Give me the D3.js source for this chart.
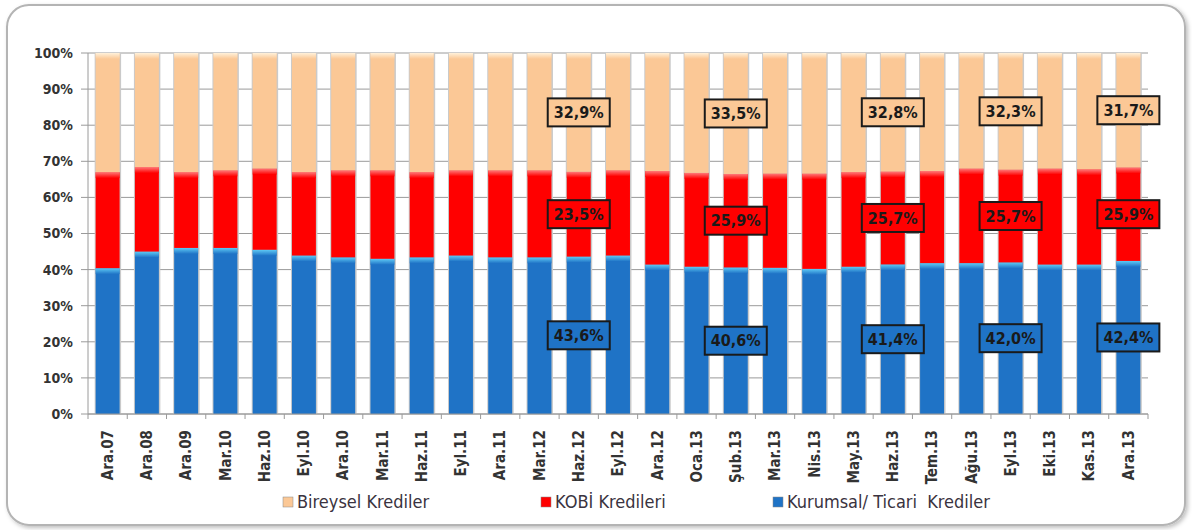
<!DOCTYPE html>
<html>
<head>
<meta charset="utf-8">
<script src="https://cdn.jsdelivr.net/npm/d3@7"></script>
<style>
  body { margin: 0; background: #fff; }
  svg { display: block; }
  .tick-lbl { font-family: 'DejaVu Sans Condensed', sans-serif; font-weight: bold; fill: #333; }
</style>
</head>
<body>
<div id="chart"></div>
<script>
// kategoriler (dönemler)
const periods = ['Ara.07','Ara.08','Ara.09','Mar.10','Haz.10','Eyl.10','Ara.10','Mar.11','Haz.11',
  'Eyl.11','Ara.11','Mar.12','Haz.12','Eyl.12','Ara.12','Oca.13','Şub.13','Mar.13','Nis.13',
  'May.13','Haz.13','Tem.13','Ağu.13','Eyl.13','Eki.13','Kas.13','Ara.13'];

// pay (%)
const kurumsal = [40.4,45.0,46.0,46.0,45.5,43.9,43.4,43.0,43.4,43.9,43.4,43.4,43.6,43.9,41.4,40.8,40.6,40.5,40.2,40.8,41.4,41.8,41.8,42.0,41.4,41.4,42.4];
const kobi     = [26.6,23.4,21.0,21.5,22.5,23.1,24.1,24.5,23.6,23.6,24.1,24.1,23.5,23.6,25.9,26.0,25.9,26.1,26.4,26.2,25.7,25.5,26.2,25.7,26.6,26.4,25.9];
const bireysel = [33.0,31.6,33.0,32.5,32.0,33.0,32.5,32.5,33.0,32.5,32.5,32.5,32.9,32.5,32.7,33.2,33.5,33.4,33.4,33.0,32.8,32.7,32.0,32.3,32.0,32.2,31.7];

// etiket gösterilen dönemler
const labelled = ['Haz.12','Şub.13','Haz.13','Eyl.13','Ara.13'];

const yTicks = [0,0.1,0.2,0.3,0.4,0.5,0.6,0.7,0.8,0.9,1];

const seriesKeys = ['kurumsal','kobi','bireysel'];
const seriesNames = { bireysel: 'Bireysel Krediler', kobi: 'KOBİ Kredileri', kurumsal: 'Kurumsal/ Ticari  Krediler' };
const COLORS = { kurumsal: '#1f73c6', kobi: '#ff0000', bireysel: '#fbc896' };
const HILITE = { kurumsal: '#5fcaf5', kobi: '#ff7a7a', bireysel: '#fff1da' };

const W = 1192, H = 530;
const plot = { left: 88, right: 1148, top: 53, bottom: 414 };

const rows = periods.map((p, i) => ({ period: p, kurumsal: kurumsal[i], kobi: kobi[i], bireysel: bireysel[i] }));
const stacked = d3.stack().keys(seriesKeys).offset(d3.stackOffsetExpand)(rows);

const svg = d3.select('#chart').append('svg').attr('width', W).attr('height', H);
const defs = svg.append('defs');

// çerçeve gölgesi
const f = defs.append('filter').attr('id', 'shadow').attr('x', '-5%').attr('y', '-5%').attr('width', '110%').attr('height', '115%');
f.append('feDropShadow').attr('dx', 2).attr('dy', 2).attr('stdDeviation', 2).attr('flood-color', '#000').attr('flood-opacity', 0.25);

seriesKeys.forEach(k => {
  const g = defs.append('linearGradient').attr('id', 'hl-' + k).attr('x1', 0).attr('y1', 0).attr('x2', 0).attr('y2', 1);
  g.append('stop').attr('offset', '0%').attr('stop-color', HILITE[k]);
  g.append('stop').attr('offset', '100%').attr('stop-color', COLORS[k]);
});

svg.append('rect')
  .attr('x', 7).attr('y', 5).attr('width', 1178).attr('height', 520).attr('rx', 22)
  .attr('fill', '#fff').attr('stroke', '#b4b4b4').attr('stroke-width', 2)
  .attr('filter', 'url(#shadow)');

const x = d3.scaleBand().domain(periods).range([plot.left, plot.right]).paddingInner(0.39).paddingOuter(0.195);
const y = d3.scaleLinear().domain([0, 1]).range([plot.bottom, plot.top]);

// yatay ızgara
svg.append('g').selectAll('line').data(yTicks).join('line')
  .attr('x1', plot.left - 7).attr('x2', plot.right)
  .attr('y1', d => y(d)).attr('y2', d => y(d))
  .attr('stroke', '#9a9a9a').attr('stroke-width', 1);

svg.append('g').selectAll('text').data(yTicks).join('text')
  .attr('class', 'tick-lbl')
  .attr('x', plot.left - 15).attr('y', d => y(d)).attr('dy', '0.35em')
  .attr('text-anchor', 'end').style('font-size', '14px')
  .text(d => Math.round(d * 100) + '%');

svg.append('line')
  .attr('x1', plot.left).attr('x2', plot.left).attr('y1', plot.top).attr('y2', plot.bottom)
  .attr('stroke', '#9a9a9a');

// çubuk gölgeleri
const bw = x.bandwidth();
svg.append('g').selectAll('rect').data(periods).join('rect')
  .attr('x', d => x(d) - 1).attr('width', bw + 2.5)
  .attr('y', y(1)).attr('height', y(0) - y(1))
  .attr('fill', '#cacaca');

// çubuklar
const layers = svg.append('g').selectAll('g').data(stacked).join('g');
layers.selectAll('rect.seg').data(s => s.map(d => ({ key: s.key, d }))).join('rect')
  .attr('class', 'seg')
  .attr('x', v => x(v.d.data.period)).attr('width', bw)
  .attr('y', v => y(v.d[1])).attr('height', v => y(v.d[0]) - y(v.d[1]))
  .attr('fill', v => COLORS[v.key]);
layers.selectAll('rect.hl').data(s => s.map(d => ({ key: s.key, d }))).join('rect')
  .attr('class', 'hl')
  .attr('x', v => x(v.d.data.period)).attr('width', bw)
  .attr('y', v => y(v.d[1])).attr('height', 6)
  .attr('fill', v => 'url(#hl-' + v.key + ')');

// x ekseni
svg.append('line')
  .attr('x1', plot.left).attr('x2', plot.right).attr('y1', plot.bottom).attr('y2', plot.bottom)
  .attr('stroke', '#9a9a9a');
svg.append('g').selectAll('line').data(periods.concat(['_end'])).join('line')
  .attr('x1', (d, i) => plot.left + i * x.step()).attr('x2', (d, i) => plot.left + i * x.step())
  .attr('y1', plot.bottom).attr('y2', plot.bottom + 5)
  .attr('stroke', '#9a9a9a');

svg.append('g').selectAll('text').data(periods).join('text')
  .attr('class', 'tick-lbl')
  .attr('transform', d => `translate(${x(d) + bw / 2},${plot.bottom + 16}) rotate(-90)`)
  .attr('dy', '0.35em').attr('text-anchor', 'end').style('font-size', '15px')
  .text(d => d);

// değer etiketleri
const boxes = [];
stacked.forEach(s => s.forEach(d => {
  if (labelled.includes(d.data.period)) boxes.push({ key: s.key, d });
}));
const lab = svg.append('g').selectAll('g').data(boxes).join('g')
  .attr('transform', v => `translate(${x(v.d.data.period) + bw / 2},${y((v.d[0] + v.d[1]) / 2)})`);
lab.append('rect')
  .attr('x', -31).attr('y', -14).attr('width', 62).attr('height', 28)
  .attr('fill', v => COLORS[v.key]).attr('stroke', '#1a1a1a').attr('stroke-width', 2);
lab.append('text')
  .attr('text-anchor', 'middle').attr('dy', '0.36em')
  .style('font-family', "'DejaVu Sans Condensed', sans-serif")
  .style('font-weight', 'bold').style('font-size', '16px').attr('fill', '#1a1a1a')
  .text(v => v.d.data[v.key].toFixed(1).replace('.', ',') + '%');

// lejant
const legendItems = [
  { key: 'bireysel', x: 283 },
  { key: 'kobi', x: 541 },
  { key: 'kurumsal', x: 773 }
];
const lg = svg.append('g').selectAll('g').data(legendItems).join('g')
  .attr('transform', d => `translate(${d.x},502)`);
lg.append('rect').attr('x', 0).attr('y', -5).attr('width', 10).attr('height', 10)
  .attr('fill', d => COLORS[d.key]).attr('stroke', '#888').attr('stroke-width', 0.5);
lg.append('text').attr('x', 14).attr('dy', '0.35em')
  .style('font-family', "'DejaVu Sans Condensed', sans-serif")
  .style('font-size', '18px').attr('fill', '#3a3340')
  .attr('xml:space', 'preserve')
  .text(d => seriesNames[d.key]);
</script>
</body>
</html>
